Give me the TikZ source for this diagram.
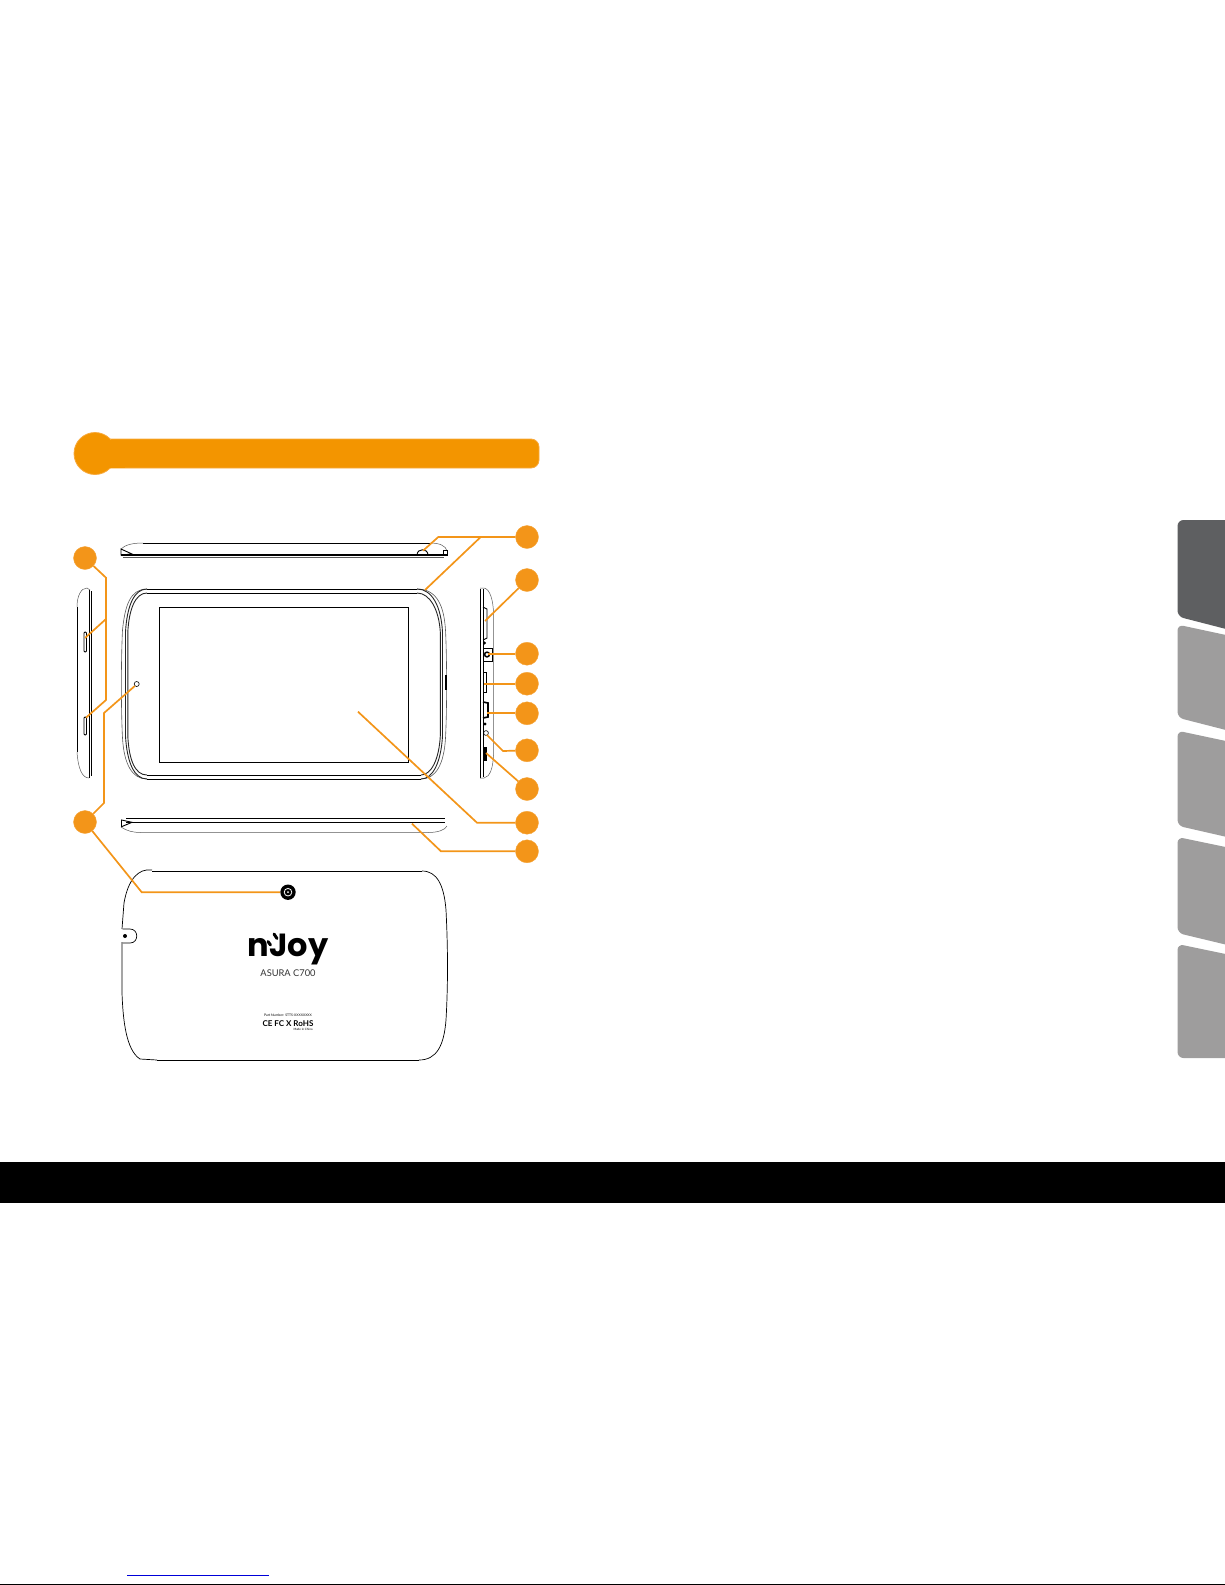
\documentclass[tikz,border=0pt]{standalone}
\usepackage{fontspec}
\newfontfamily\logofont{Poppins}
\newfontfamily\labelfont{Lato}
\definecolor{bandorange}{HTML}{F39500}
\definecolor{bandedge}{HTML}{F8A93C}
\definecolor{leadorange}{HTML}{F39519}
\definecolor{tabdark}{HTML}{5E5F61}
\definecolor{tablight}{HTML}{9E9D9D}
\tikzset{
    bullet/.style={circle,fill=leadorange,draw=leadorange!85!white,line width=.4pt,minimum size=23pt,inner sep=0pt},
    lead/.style={leadorange,line width=1.7pt},
    body/.style={black,line width=.9pt},
    thinbody/.style={black!65,line width=.5pt},
    tabshape/.style={rounded corners=6pt}
}
\begin{document}
\begin{tikzpicture}[x=1pt,y=-1pt]
        \useasboundingbox (0,0) rectangle (1225,1585);
        % header band
        \fill [bandorange,draw=bandedge,line width=.8pt,rounded corners=8pt] (95,439) rectangle (539,468);
        \fill [bandorange,draw=bandedge,line width=.8pt] (95,453.5) circle (21);
        \fill [bandorange] (95,439.5) rectangle (125,467.5);
        % tabs on the right edge
        \fill [tabdark,tabshape] (1240,520) -- (1177.5,520) -- (1177.5,616.5) -- (1240,632.6) -- cycle;
        \fill [tablight,tabshape] (1240,638) -- (1177.5,624.6) -- (1177.5,717.6) -- (1240,733.6) -- cycle;
        \fill [tablight,tabshape] (1240,744) -- (1177.5,730.7) -- (1177.5,825.7) -- (1240,840) -- cycle;
        \fill [tablight,tabshape] (1240,850) -- (1177.5,837) -- (1177.5,933) -- (1240,948) -- cycle;
        \fill [tablight,tabshape] (1240,957) -- (1177.5,944) -- (1177.5,1058) -- (1240,1058) -- cycle;
        % black band and page foot
        \fill [black] (0,1162) rectangle (1225,1203);
        \draw [blue!85!black,line width=1pt] (127,1575) -- (268.7,1575);
        \draw [black,line width=1pt] (0,1584.5) -- (1225,1584.5);
        % top view
        \draw [body] (143,543) -- (430,543);
        \draw [thinbody] (143,543) .. controls (132,543) and (125,545) .. (121,549);
        \draw [thinbody] (430,543) .. controls (440,543) and (446,546) .. (447,551);
        \draw [body,line width=1.3pt] (121,555) -- (447,555);
        \draw [thinbody] (123,557) -- (444,557);
        \draw [body] (121,549) -- (121,555) -- (132,554) -- cycle;
        \draw [body] (417,555) .. controls (417,548) and (428,548) .. (428,555);
        \draw [body] (443,550) rectangle (447,555);
        % left view
        \draw [body] (77,607) -- (77,752);
        \draw [thinbody] (77,607) .. controls (77,596) and (81,588) .. (87,588) -- (90,590);
        \draw [thinbody] (77,752) .. controls (78,768) and (82,778) .. (89,778);
        \draw [body] (89,590) -- (89,778) (91.5,591) -- (91.5,776);
        \draw [body,rounded corners=1pt] (84,632) rectangle (86.5,652);
        \draw [body,rounded corners=1pt] (84,717) rectangle (86.5,735);
        % right view
        \draw [body,line width=1.3pt] (480.5,589) -- (480.5,778);
        \draw [body] (483,589) -- (483,777);
        \draw [thinbody] (480,588) -- (484,588) .. controls (490,589) and (493,600) .. (493.5,612) -- (493.5,755) .. controls (493,768) and (490,777) .. (484,778) -- (480,778);
        \draw [body] (483,607) -- (487,609) -- (487,638) -- (483,640);
        \fill [black] (484.5,643) circle (1.6);
        \draw [body,line width=.7pt] (483,648) rectangle (492,661.5);
        \draw [body,line width=1.5pt] (487,654.5) circle (2.4);
        \draw [body] (483,672) rectangle (486,692);
        \draw [body,line width=1.6pt] (483,702) -- (488,703) -- (488,717) -- (483,718);
        \fill [black] (485,724) circle (1.6);
        \draw [body,line width=.6pt] (486,733) circle (2.4);
        \fill [black] (483,747) rectangle (487,761);
        % front view
        \draw [thinbody,line width=.6pt] (147,589) .. controls (130,589) and (125,606) .. (122.5,630) .. controls (121,660) and (121,710) .. (122.5,738) .. controls (124,764) and (132,779) .. (147,779);
        \draw [thinbody,line width=.6pt] (417,589) .. controls (437,589) and (444,606) .. (445.5,630) .. controls (447,660) and (447,710) .. (445.5,738) .. controls (444,764) and (436,779) .. (421,779);
        \draw [black!85,line width=.9pt] (147,589) .. controls (134,589) and (127,606) .. (125.5,632) -- (125.5,736) .. controls (127,762) and (134,779) .. (147,779);
        \draw [black!85,line width=.9pt] (147,593) .. controls (135,593) and (129,610) .. (127.8,632) -- (127.8,736) .. controls (129,760) and (135,775) .. (147,775);
        \draw [black!85,line width=.9pt] (417,589) .. controls (432,589) and (441,606) .. (442.5,632) -- (442.5,736) .. controls (441,762) and (433,779) .. (421,779);
        \draw [black!85,line width=.9pt] (417,593) .. controls (430,593) and (439,610) .. (440.3,632) -- (440.3,736) .. controls (439,760) and (431,775) .. (421,775);
        \draw [body] (147,589) -- (417,589) (147,593) -- (417,593);
        \draw [body] (147,775) -- (421,775) (147,779) -- (421,779);
        \draw [black,line width=1.5pt] (446,675) -- (446,690);
        \draw [body] (159,607) rectangle (408,762);
        \draw [body,line width=.6pt] (136.7,684) circle (2.5);
        % bottom view
        \draw [body] (126,818.3) -- (445,818.3) (126,822.3) -- (445,822.3);
        \draw [body] (121.5,820) -- (121.5,826.7) -- (132,822.3) -- cycle;
        \draw [thinbody] (121,827) .. controls (127,831) and (133,832.5) .. (141,832.5) -- (428,832.5) .. controls (438,832.5) and (445,830) .. (447,826);
        % back view
        \draw [body] (152,871) -- (422,871) (157,1060) -- (419,1060);
        \draw [body,line width=.7pt] (152,870) .. controls (138,868) and (128,880) .. (124,903) -- (122,929) (122,942) -- (122,993) .. controls (123,1020) and (126,1050) .. (140,1059) -- (157,1060);
        \draw [body,line width=.7pt] (422,871) .. controls (437,871) and (444,885) .. (446,910) .. controls (448,950) and (448,985) .. (446,1020) .. controls (444,1045) and (437,1060) .. (419,1060);
        \draw [body,line width=.7pt] (122.5,929) -- (130,929) .. controls (139,929) and (139,943) .. (130,943) -- (122.5,943);
        \fill [black] (125,936) circle (2);
        % lens
        \node [circle,fill=black,minimum size=15.4pt,inner sep=0pt] (lens) at (288,892.2) {};
        \draw [white,line width=.8pt] (lens) circle (3.8);
        \fill [white] (lens) circle (1);
        % logo and rear labels
        \node [inner sep=0pt] (logo) at (288,949.5) {\logofont\bfseries\fontsize{32}{32}\selectfont nJoy};
        \draw [black,line width=3pt,line cap=round] (268,941.5) -- (270.5,945);
        \draw [black,line width=3pt,line cap=round] (274,934) -- (277,938.5);
        \node [inner sep=0pt,black!80] (model) at (288,972.7) {\labelfont\fontsize{9.3}{9.3}\selectfont ASURA C700};
        \node [inner sep=0pt] (part) at (288,1015.6) {\labelfont\fontsize{3.4}{3.4}\selectfont Part Number: STTS-XXXXXXXX};
        \node [inner sep=0pt] (marks) at (288,1023.2) {\labelfont\bfseries\fontsize{8}{8}\selectfont CE FC X RoHS};
        \node [inner sep=0pt] (origin) at (303,1029.4) {\labelfont\fontsize{3}{3}\selectfont Made in China};
        % numbered bullets
        \node [bullet] (Bpower) at (527,537) {};
        \node [bullet] (Bcard) at (527,580) {};
        \node [bullet] (Bjack) at (527,653.7) {};
        \node [bullet] (Busb) at (527,683.7) {};
        \node [bullet] (Bhdmi) at (527,713.3) {};
        \node [bullet] (Breset) at (527,750.3) {};
        \node [bullet] (Bswitch) at (527,789) {};
        \node [bullet] (Bscreen) at (527,822.7) {};
        \node [bullet] (Bmic) at (527,851.3) {};
        \node [bullet] (Bvol) at (85,558) {};
        \node [bullet] (Bcam) at (85,822) {};
        % free ends of the leads
        \coordinate (P1) at (438.3,537);
        \coordinate (P2) at (423,550.7);
        \coordinate (P3) at (480.7,537);
        \coordinate (P4) at (425,590);
        \coordinate (C1) at (485,621);
        \coordinate (J1) at (488,653.7);
        \coordinate (U1) at (484,683.7);
        \coordinate (H1) at (487,713.3);
        \coordinate (R1) at (503,751);
        \coordinate (R2) at (487,735);
        \coordinate (W1) at (486,753);
        \coordinate (S1) at (477,822.7);
        \coordinate (S2) at (358,711.7);
        \coordinate (M1) at (441,851.3);
        \coordinate (M2) at (412,823.7);
        \coordinate (V1) at (106,577.7);
        \coordinate (V2) at (106,619);
        \coordinate (V3) at (85,638);
        \coordinate (V4) at (106,700);
        \coordinate (V5) at (86,717.7);
        \coordinate (F1) at (104,803);
        \coordinate (F2) at (104,713);
        \coordinate (F3) at (134.8,686);
        \coordinate (K1) at (141.7,892.2);
        % leads
        \draw [lead] (Bpower) -- (P1) -- (P2);
        \draw [lead] (P3) -- (P4);
        \draw [lead] (Bcard) -- (C1);
        \draw [lead] (Bjack) -- (J1);
        \draw [lead] (Busb) -- (U1);
        \draw [lead] (Bhdmi) -- (H1);
        \draw [lead] (Breset) -- (R1) -- (R2);
        \draw [lead] (Bswitch) -- (W1);
        \draw [lead] (Bscreen) -- (S1) -- (S2);
        \draw [lead] (Bmic) -- (M1) -- (M2);
        \draw [lead] (Bvol) -- (V1) -- (V4) -- (V5);
        \draw [lead] (V2) -- (V3);
        \draw [lead] (Bcam) -- (F1) -- (F2) -- (F3);
        \draw [lead] (Bcam) -- (K1) -- (lens);
    \end{tikzpicture}
\end{document}
